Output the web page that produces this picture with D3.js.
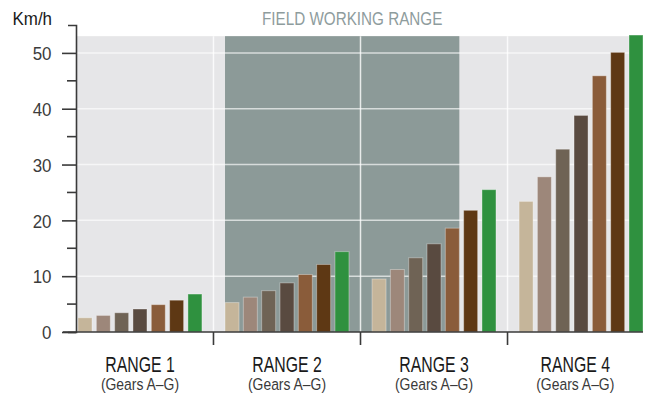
<!DOCTYPE html>
<html>
<head>
<meta charset="utf-8">
<script src="https://cdn.jsdelivr.net/npm/d3@7"></script>
<style>
  body { margin: 0; background: #fff; }
  text { font-family: "Liberation Sans", Arial, sans-serif; }
</style>
</head>
<body>
<div id="chart"></div>
<script>
const ranges = ["RANGE 1", "RANGE 2", "RANGE 3", "RANGE 4"];
const gears = ["A", "B", "C", "D", "E", "F", "G"];
const gearColors = ["#c5b59a", "#9d877a", "#6f6355", "#594a40", "#8a5c3a", "#5e3814", "#2f913f"];
const range1 = [2.55, 2.97, 3.45, 4.12, 4.9, 5.7, 6.8];
const range2 = [5.27, 6.24, 7.4, 8.8, 10.3, 12.1, 14.4];
const range3 = [9.5, 11.2, 13.3, 15.8, 18.6, 21.8, 25.5];
const range4 = [23.4, 27.8, 32.75, 38.8, 45.9, 50.1, 53.2];
const yTicks = [0, 10, 20, 30, 40, 50];
const yMinorTicks = [5, 15, 25, 35, 45];
// field working range runs from gear A of range 2 to gear E of range 3
const fieldStart = ["RANGE 2", "A"];
const fieldEnd = ["RANGE 3", "E"];

const W = 656, H = 397;
const plotTop = 53; // grey background stops here

const svg = d3.select("#chart").append("svg")
  .attr("width", W)
  .attr("height", H);

const x0 = d3.scaleBand()
  .domain(ranges)
  .range([78, 643])
  .paddingInner(0.157)
  .paddingOuter(0);

const x1 = d3.scaleBand()
  .domain(gears)
  .range([0, x0.bandwidth()])
  .paddingInner(0.236)
  .paddingOuter(0);

const y = d3.scaleLinear()
  .domain([0, 55])
  .range([332, 25]);

const data = [range1, range2, range3, range4];

// condensed look: squeeze text horizontally
function squeezed(sel, x, yy, sx) {
  return sel.attr("transform", `translate(${x},${yy}) scale(${sx},1)`);
}

// background
svg.append("rect")
  .attr("x", 77)
  .attr("y", y(plotTop))
  .attr("width", 643 - 77)
  .attr("height", y(0) - y(plotTop))
  .attr("fill", "#e6e6e8");

// field working range shading
const fx0 = x0(fieldStart[0]) + x1(fieldStart[1]);
const fx1 = x0(fieldEnd[0]) + x1(fieldEnd[1]) + x1.bandwidth();
svg.append("rect")
  .attr("x", fx0)
  .attr("y", y(plotTop))
  .attr("width", fx1 - fx0)
  .attr("height", y(0) - y(plotTop))
  .attr("fill", "#8c9a98");

svg.append("text")
  .call(squeezed, (fx0 + fx1) / 2 + 10, 25, 0.82)
  .attr("text-anchor", "middle")
  .attr("font-size", 18.6)
  .attr("fill", "#8e9c9d")
  .text("FIELD WORKING RANGE");

// gridlines
const grid = svg.append("g");
grid.selectAll("line.h")
  .data(yTicks.filter(d => d > 0))
  .join("line")
  .attr("x1", 77).attr("x2", 643)
  .attr("y1", d => y(d)).attr("y2", d => y(d))
  .attr("stroke", "#fff")
  .attr("stroke-opacity", 0.65)
  .attr("stroke-width", 1.5);

const gap = x0.step() - x0.bandwidth();
const seps = ranges.slice(1).map(r => x0(r) - gap / 2);
grid.selectAll("line.v")
  .data(seps)
  .join("line")
  .attr("x1", d => d).attr("x2", d => d)
  .attr("y1", y(plotTop)).attr("y2", y(0))
  .attr("stroke", "#fff")
  .attr("stroke-opacity", 0.8)
  .attr("stroke-width", 1.5);

// bars
const groups = svg.append("g")
  .selectAll("g")
  .data(data)
  .join("g")
  .attr("transform", (d, i) => `translate(${x0(ranges[i])},0)`);

groups.selectAll("rect")
  .data(d => d)
  .join("rect")
  .attr("x", (d, i) => x1(gears[i]))
  .attr("y", d => y(d))
  .attr("width", x1.bandwidth())
  .attr("height", d => y(0) - y(d))
  .attr("fill", (d, i) => gearColors[i])
  .attr("stroke", "#fff")
  .attr("stroke-opacity", 0.35)
  .attr("stroke-width", 1);

// y axis
const yAxis = svg.append("g")
  .attr("transform", "translate(76,0)")
  .call(d3.axisLeft(y).tickValues(yTicks).tickSize(14).tickSizeOuter(8).tickPadding(10));
yAxis.selectAll("path, line").attr("stroke", "#3a3a3a").attr("stroke-width", 1.6);
yAxis.selectAll("text")
  .attr("x", 0)
  .attr("dy", "0.36em")
  .attr("transform", "translate(-24.5,0) scale(0.9,1)")
  .attr("font-size", 18.8)
  .attr("fill", "#3c3c3c")
  .attr("font-family", null);

yAxis.selectAll("line.minor")
  .data(yMinorTicks)
  .join("line")
  .attr("class", "minor")
  .attr("x1", -9).attr("x2", 0)
  .attr("y1", d => y(d)).attr("y2", d => y(d))
  .attr("stroke", "#3a3a3a")
  .attr("stroke-width", 1.6);

svg.append("text")
  .call(squeezed, 52, 25, 0.91)
  .attr("text-anchor", "end")
  .attr("font-size", 18.6)
  .attr("fill", "#1a1a1a")
  .text("Km/h");

// x axis
svg.append("line")
  .attr("x1", 63).attr("x2", 643)
  .attr("y1", y(0)).attr("y2", y(0))
  .attr("stroke", "#3a3a3a")
  .attr("stroke-width", 1.6);

svg.selectAll("line.xt")
  .data(seps)
  .join("line")
  .attr("class", "xt")
  .attr("x1", d => d).attr("x2", d => d)
  .attr("y1", y(0)).attr("y2", y(0) + 13)
  .attr("stroke", "#3a3a3a")
  .attr("stroke-width", 1.6);

// labels centred between the separators
const bounds = [x0.range()[0] - gap / 2, ...seps, x0.range()[1]];
const labels = svg.append("g")
  .selectAll("g")
  .data(ranges)
  .join("g")
  .attr("transform", (d, i) => `translate(${(bounds[i] + bounds[i + 1]) / 2},0)`);

labels.append("text")
  .call(squeezed, 0, 371.5, 0.72)
  .attr("text-anchor", "middle")
  .attr("font-size", 22)
  .attr("fill", "#1a1a1a")
  .text(d => d);

labels.append("text")
  .call(squeezed, 0, 389.5, 0.81)
  .attr("text-anchor", "middle")
  .attr("font-size", 17.2)
  .attr("fill", "#3a3a3a")
  .text("(Gears A–G)");
</script>
</body>
</html>
